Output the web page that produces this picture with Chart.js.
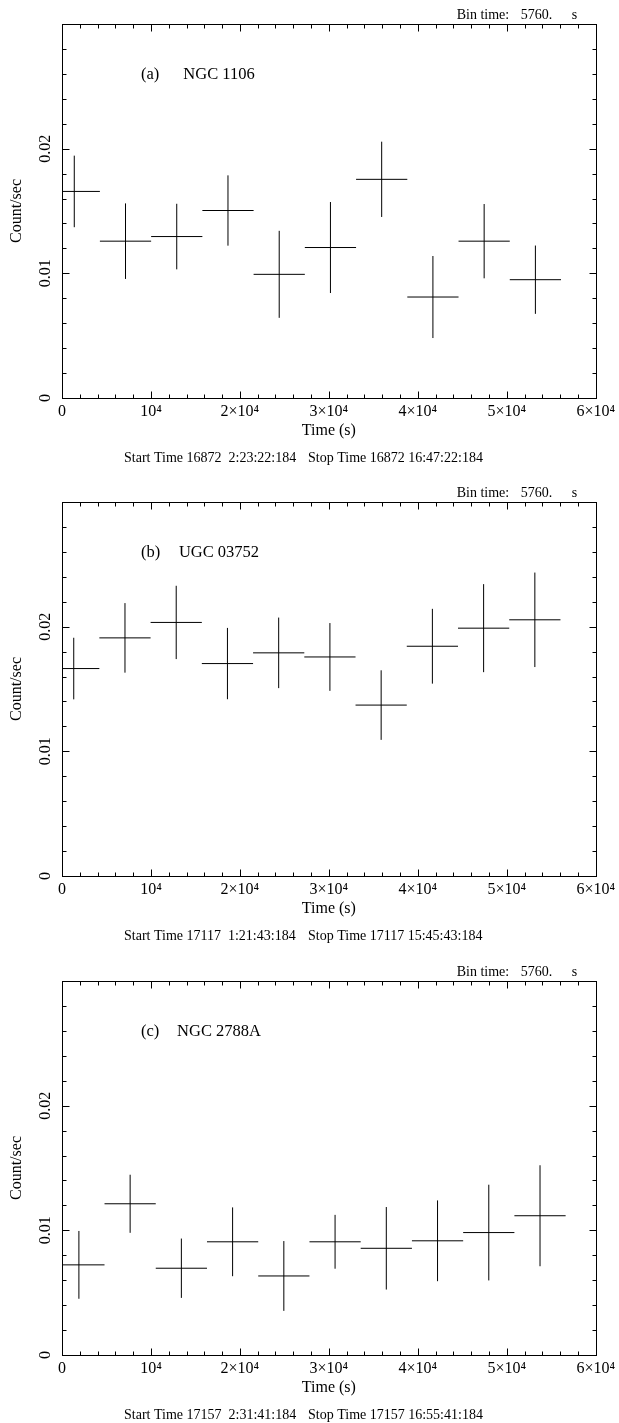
<!DOCTYPE html>
<html>
<head>
<meta charset="utf-8">
<script src="https://cdn.jsdelivr.net/npm/chart.js@4.4.0/dist/chart.umd.min.js"></script>
<style>
  html, body { margin: 0; padding: 0; background: #fff; overflow: hidden; }
  body { width: 619px; height: 1423px; position: relative; }
  canvas { position: absolute; left: 0; }
</style>
</head>
<body>
<canvas id="lcA" width="619" height="479" style="top:0px"></canvas>
<canvas id="lcB" width="619" height="479" style="top:478px"></canvas>
<canvas id="lcC" width="619" height="479" style="top:957px"></canvas>
<script>
// bin width in seconds (from "Bin time: 5760. s")
const binTime = 5760

const xTicks = [0, 10000, 20000, 30000, 40000, 50000, 60000]
const xTickLabels = ['0', '10⁴', '2×10⁴', '3×10⁴', '4×10⁴', '5×10⁴', '6×10⁴']
const yTicks = [0, 0.01, 0.02]
const yTickLabels = ['0', '0.01', '0.02']

// (a) NGC 1106
const timeA = [1380, 7140, 12900, 18660, 24420, 30180, 35940, 41700, 47460, 53220]
const rateA = [0.01657, 0.01258, 0.01295, 0.01504, 0.00992, 0.01207, 0.01754, 0.0081, 0.01258, 0.00949]
const errA = [0.00287, 0.00303, 0.00263, 0.00282, 0.00349, 0.00365, 0.00302, 0.00329, 0.00298, 0.00274]

// (b) UGC 03752
const timeB = [1320, 7080, 12840, 18600, 24360, 30120, 35880, 41640, 47400, 53160]
const rateB = [0.01664, 0.0191, 0.02034, 0.01704, 0.0179, 0.01757, 0.01371, 0.01843, 0.01988, 0.02055]
const errB = [0.00247, 0.00279, 0.00294, 0.00286, 0.00283, 0.00272, 0.00279, 0.003, 0.00353, 0.00379]

// (c) NGC 2788A
const timeC = [1900, 7660, 13420, 19180, 24940, 30700, 36460, 42220, 47980, 53740]
const rateC = [0.00723, 0.01213, 0.00696, 0.00908, 0.00634, 0.00908, 0.00856, 0.00916, 0.00982, 0.01117]
const errC = [0.00272, 0.00233, 0.00238, 0.00276, 0.0028, 0.00216, 0.00331, 0.00324, 0.00384, 0.00405]

Chart.defaults.font.family = '"Liberation Serif", "Times New Roman", serif'
Chart.defaults.font.size = 16
Chart.defaults.color = '#000'

// frame, inward ticks on all four sides, and the xronos-style captions
const framePlugin = {
  id: 'frame',
  afterDraw(chart, args, opts) {
    const { ctx, chartArea: a, scales: { x, y } } = chart
    const L = Math.round(a.left) + 0.5, R = Math.round(a.right) + 0.5
    const T = Math.round(a.top) + 0.5, B = Math.round(a.bottom) + 0.5
    ctx.save()
    ctx.strokeStyle = '#000'
    ctx.lineWidth = 1
    ctx.strokeRect(L, T, R - L, B - T)
    ctx.beginPath()
    let n = Math.round((x.max - x.min) / 2000)
    for (let k = 1; k < n; k++) {
      const v = x.min + k * 2000
      const px = Math.round(x.getPixelForValue(v)) + 0.5
      const len = k % 5 === 0 ? 7 : 4
      ctx.moveTo(px, B); ctx.lineTo(px, B - len)
      ctx.moveTo(px, T); ctx.lineTo(px, T + len)
    }
    n = Math.round((y.max - y.min) / 0.002)
    for (let k = 1; k < n; k++) {
      const v = y.min + k * 0.002
      const py = Math.round(y.getPixelForValue(v)) + 0.5
      const len = k % 5 === 0 ? 7 : 4
      ctx.moveTo(L, py); ctx.lineTo(L + len, py)
      ctx.moveTo(R, py); ctx.lineTo(R - len, py)
    }
    ctx.stroke()

    ctx.fillStyle = '#000'
    ctx.textBaseline = 'alphabetic'
    ctx.textAlign = 'left'
    ctx.font = '14px "Liberation Serif", serif'
    ctx.fillText('Bin time:', a.right - 139, a.top - 5)
    ctx.fillText('5760.', a.right - 75, a.top - 5)
    ctx.fillText('s', a.right - 24, a.top - 5)
    ctx.fillText(opts.start, a.left + 62, a.bottom + 64)
    ctx.fillText(opts.stop, a.left + 246, a.bottom + 64)

    ctx.font = '16.5px "Liberation Serif", serif'
    ctx.fillText(opts.tag, a.left + 79, a.top + 55.3)
    ctx.textAlign = 'center'
    ctx.fillText(opts.name, a.left + 157, a.top + 55.3)
    ctx.restore()
  }
}

function makeChart(id, times, rates, errs, info) {
  const hLine = []
  const vLine = []
  times.forEach((t, i) => {
    hLine.push({ x: t - binTime / 2, y: rates[i] }, { x: t + binTime / 2, y: rates[i] }, { x: t, y: null })
    vLine.push({ x: t, y: rates[i] - errs[i] }, { x: t, y: rates[i] + errs[i] }, { x: t, y: null })
  })
  const lineStyle = {
    showLine: true,
    borderColor: '#000',
    borderWidth: 1,
    pointRadius: 0,
    pointHoverRadius: 0,
    spanGaps: false
  }
  return new Chart(document.getElementById(id), {
    type: 'scatter',
    data: {
      datasets: [
        Object.assign({ label: 'rate', data: hLine }, lineStyle),
        Object.assign({ label: 'error', data: vLine }, lineStyle)
      ]
    },
    options: {
      responsive: false,
      animation: false,
      events: [],
      layout: { padding: { left: 0, top: 24, right: 21, bottom: 39 } },
      plugins: {
        legend: { display: false },
        tooltip: { enabled: false },
        frame: info
      },
      scales: {
        x: {
          type: 'linear',
          min: 0,
          max: 60000,
          grid: { display: false, drawTicks: false },
          border: { display: false },
          afterBuildTicks: s => { s.ticks = xTicks.map(v => ({ value: v })) },
          afterFit: s => { s.height = 42 },
          ticks: {
            padding: 4,
            autoSkip: false,
            maxRotation: 0,
            callback: (v, i) => xTickLabels[i]
          },
          title: { display: true, text: 'Time (s)', padding: { top: 0, bottom: 0 } }
        },
        y: {
          type: 'linear',
          min: 0,
          max: 0.03,
          grid: { display: false, drawTicks: false },
          border: { display: false },
          afterBuildTicks: s => { s.ticks = yTicks.map(v => ({ value: v })) },
          afterFit: s => { s.width = 62 },
          ticks: {
            padding: 2,
            minRotation: 90,
            maxRotation: 90,
            crossAlign: 'center',
            callback: (v, i) => yTickLabels[i]
          },
          title: { display: true, text: 'Count/sec', padding: { top: 7, bottom: 0 } }
        }
      }
    },
    plugins: [framePlugin]
  })
}

makeChart('lcA', timeA, rateA, errA, {
  tag: '(a)', name: 'NGC 1106',
  start: 'Start Time 16872  2:23:22:184', stop: 'Stop Time 16872 16:47:22:184'
})
makeChart('lcB', timeB, rateB, errB, {
  tag: '(b)', name: 'UGC 03752',
  start: 'Start Time 17117  1:21:43:184', stop: 'Stop Time 17117 15:45:43:184'
})
makeChart('lcC', timeC, rateC, errC, {
  tag: '(c)', name: 'NGC 2788A',
  start: 'Start Time 17157  2:31:41:184', stop: 'Stop Time 17157 16:55:41:184'
})
</script>
</body>
</html>
